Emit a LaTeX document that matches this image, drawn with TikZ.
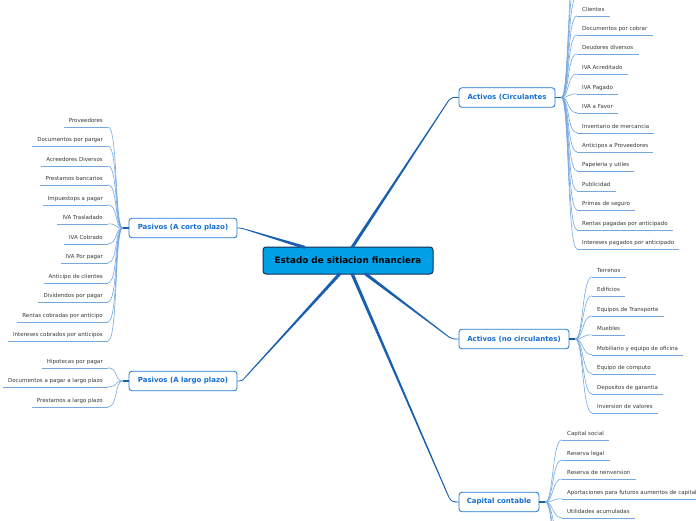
\documentclass[tikz,border=0pt]{standalone}
\usepackage{fontspec}
\setmainfont{DejaVu Sans}
\usetikzlibrary{calc}
\definecolor{leafc}{RGB}{115,168,225}
\definecolor{boxc}{RGB}{30,120,215}
\definecolor{boxt}{RGB}{20,110,210}
\definecolor{mainc}{RGB}{25,95,175}
\definecolor{ctrfill}{RGB}{0,160,230}
\definecolor{ctrdraw}{RGB}{20,45,80}
\definecolor{leaft}{RGB}{55,55,55}
\newcommand\mmtaper[3]{%
  \fill[mainc] ($(#1)!#3!90:(#2)$) -- ($(#2)!0.45pt!-90:(#1)$) -- ($(#2)!0.45pt!90:(#1)$) -- ($(#1)!#3!-90:(#2)$) -- cycle;}
\tikzset{
  leafbase/.style={font=\fontsize{5.5}{6}\selectfont, text=leaft, inner xsep=5pt, inner ysep=2.5pt, text height=4pt, text depth=1.2pt},
  leafR/.style={leafbase, anchor=west},
  leafL/.style={leafbase, anchor=east},
  leafline/.style={draw=leafc, line width=0.6pt},
  box/.style={draw=boxc, line width=0.8pt, rounded corners=3pt, fill=white, text=boxt, font=\fontsize{7}{8}\selectfont\bfseries, minimum height=19.5pt, inner sep=0pt},
  ctr/.style={draw=ctrdraw, line width=1pt, rounded corners=3pt, fill=ctrfill, text=black, font=\fontsize{8.8}{10}\selectfont\bfseries, minimum width=170pt, minimum height=27pt, inner sep=0pt},
  stub/.style={draw=mainc, line width=1.3pt},
  thin/.style={draw=mainc, line width=0.8pt}
}
\begin{document}
\begin{tikzpicture}[x=1pt,y=-1pt]
\useasboundingbox (0,0) rectangle (696,520);
\clip (0,0) rectangle (696,520);
\fill[white] (0,0) rectangle (696,520);

% center
\node[ctr] (ctr) at (348,260.5) {Estado de sitiacion financiera};

% category boxes
\node[box, minimum width=96pt] (ac) at (507,97.5) {Activos (Circulantes};
\node[box, minimum width=108pt] (pc) at (183,228) {Pasivos (A corto plazo)};
\node[box, minimum width=108pt] (pl) at (183,381) {Pasivos (A largo plazo)};
\node[box, minimum width=110pt] (an) at (514,339) {Activos (no circulantes)};
\node[box, minimum width=80pt] (cc) at (499,502) {Capital contable};

% main connectors
\coordinate (s1) at (352,247.5);
\coordinate (e1) at (449,100);
\coordinate (s2) at (305,247.5);
\coordinate (e2) at (246,229.5);
\coordinate (s3) at (340,273.5);
\coordinate (e3) at (245,377.5);
\coordinate (s4) at (365,273.5);
\coordinate (e4) at (449,337);
\coordinate (s5) at (352,273.5);
\coordinate (e5) at (449,497.5);
\mmtaper{s1}{e1}{1.6pt}
\mmtaper{s2}{e2}{1.6pt}
\mmtaper{s3}{e3}{1.6pt}
\mmtaper{s4}{e4}{1.6pt}
\mmtaper{s5}{e5}{1.6pt}
\draw[thin] (e1) .. controls +(2,-3) and +(-5,0) .. (ac.west);
\draw[thin] (e2) .. controls +(-3,-1) and +(4,0) .. (pc.east);
\draw[thin] (e3) .. controls +(-2,3) and +(4,0) .. (pl.east);
\draw[thin] (e4) .. controls +(3,2) and +(-5,0) .. (an.west);
\draw[thin] (e5) .. controls +(2,4) and +(-5,0) .. (cc.west);

% hubs
\coordinate (achub) at ($(ac.east)+(6,0)$);
\coordinate (pchub) at ($(pc.west)+(-6,0)$);
\coordinate (plhub) at ($(pl.west)+(-6,0)$);
\coordinate (anhub) at ($(an.east)+(6,0)$);
\coordinate (cchub) at ($(cc.east)+(6,0)$);
\draw[stub] (ac.east) -- (achub);
\draw[stub] (pc.west) -- (pchub);
\draw[stub] (pl.west) -- (plhub);
\draw[stub] (an.east) -- (anhub);
\draw[stub] (cc.east) -- (cchub);

% Activos circulantes leaves
\foreach \y/\t [count=\i] in {10/Clientes, 29/Documentos por cobrar, 48/Deudores diversos, 68/IVA Acreditado, 88/IVA Pagado, 107/IVA a Favor, 127/Inventario de mercancia, 146/Anticipos a Proveedores, 165/Papeleria y utiles, 185/Publicidad, 204/Primas de seguro, 224/Rentas pagadas por anticipado, 243/Intereses pagados por anticipado}{
  \node[leafR] (ac\i) at (577,\y+0.5) {\t};
  \draw[leafline] (ac\i.south west) -- (ac\i.south east);
  \draw[leafline] (achub) .. controls +(8,0) and +(-10,0) .. (ac\i.south west);
}
\foreach \y [count=\i] in {-9,-29,-48}{
  \coordinate (aco\i) at (577,\y+5);
  \draw[leafline] (achub) .. controls +(8,0) and +(-10,0) .. (aco\i);
}

% Pasivos corto plazo leaves
\foreach \y/\t [count=\i] in {121/Proveedores, 140/Documentos por pargar, 160/Acreedores Diversos, 179/Prestamos bancarios, 199/Impuestops a pagar, 218/IVA Trasladado, 238/IVA Cobrado, 257/IVA Por pagar, 277/Anticipo de clientes, 296/Dividendos por pagar, 316/Rentas cobradas por anticipo, 335/Intereses cobrados por anticipos}{
  \node[leafL] (pc\i) at (108,\y+0.5) {\t};
  \draw[leafline] (pc\i.south west) -- (pc\i.south east);
  \draw[leafline] (pchub) .. controls +(-8,0) and +(10,0) .. (pc\i.south east);
}

% Pasivos largo plazo leaves
\foreach \y/\t [count=\i] in {362/Hipotecas por pagar, 381/Documentos a pagar a largo plazo, 401/Prestamos a largo plazo}{
  \node[leafL] (pl\i) at (108,\y+0.5) {\t};
  \draw[leafline] (pl\i.south west) -- (pl\i.south east);
  \draw[leafline] (plhub) .. controls +(-8,0) and +(10,0) .. (pl\i.south east);
}

% Activos no circulantes leaves
\foreach \y/\t [count=\i] in {271/Terrenos, 290/Edificios, 310/Equipos de Transporte, 329/Muebles, 349/Mobiliario y equipo de oficina, 368/Equipo de computo, 388/Depositos de garantia, 407/Inversion de valores}{
  \node[leafR] (an\i) at (592,\y+0.5) {\t};
  \draw[leafline] (an\i.south west) -- (an\i.south east);
  \draw[leafline] (anhub) .. controls +(8,0) and +(-10,0) .. (an\i.south west);
}

% Capital contable leaves
\foreach \y/\t [count=\i] in {434/Capital social, 454/Reserva legal, 473/Reserva de reinversion, 493/Aportaciones para futuros aumentos de capital, 512/Utilidades acumuladas}{
  \node[leafR] (cc\i) at (562,\y+0.5) {\t};
  \draw[leafline] (cc\i.south west) -- (cc\i.south east);
  \draw[leafline] (cchub) .. controls +(8,0) and +(-10,0) .. (cc\i.south west);
}
\foreach \y [count=\i] in {531,551,570}{
  \coordinate (cco\i) at (562,\y+5);
  \draw[leafline] (cchub) .. controls +(8,0) and +(-10,0) .. (cco\i);
}
\end{tikzpicture}
\end{document}
